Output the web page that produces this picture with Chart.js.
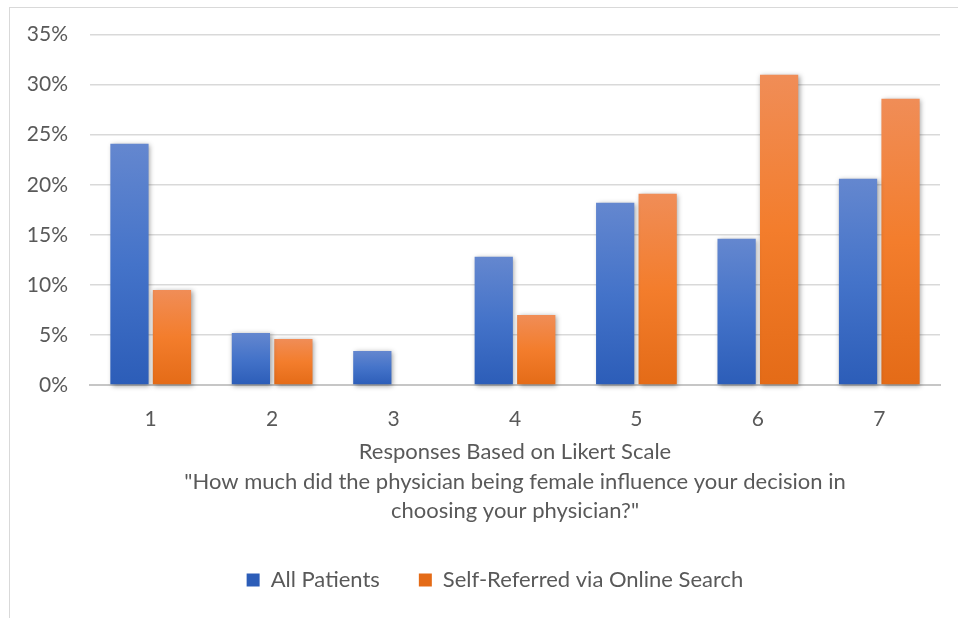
<!DOCTYPE html>
<html>
<head>
<meta charset="utf-8">
<script src="https://cdn.jsdelivr.net/npm/chart.js@4.4.1/dist/chart.umd.min.js"></script>
<style>
  html, body { margin: 0; padding: 0; background: #fff; }
  #wrap { position: relative; width: 958px; height: 618px; overflow: hidden; }
  #frame { position: absolute; left: 9px; top: 7px; right: -4px; bottom: -4px;
           border-top: 1.5px solid #d9d9d9; border-left: 1.5px solid #d9d9d9; }
  canvas { position: absolute; left: 0; top: 0; }
</style>
</head>
<body>
<div id="wrap">
  <div id="frame"></div>
  <canvas id="c" width="958" height="618"></canvas>
</div>
<script>
// Likert responses 1..7, share of respondents (%)
const categories = ['1', '2', '3', '4', '5', '6', '7'];
const allPatients = [24.1, 5.2, 3.4, 12.8, 18.2, 14.6, 20.6];
const selfReferred = [9.5, 4.6, 0, 7.0, 19.1, 31.0, 28.6];
const seriesNames = ['All Patients', 'Self-Referred via Online Search'];
const axisTitle = [
  'Responses Based on Likert Scale',
  '"How much did the physician being female influence your decision in',
  'choosing your physician?"'
];

const FONT = 'Lato, "Open Sans", sans-serif';
const TEXT = '#595959';

// Vertical gradient for each bar: lighter at the top, deeper at the base
function barFill(stops, solid) {
  return (ctx) => {
    if (ctx.type !== 'data') return solid;
    const chart = ctx.chart;
    const y = chart.scales && chart.scales.y;
    if (!chart.chartArea || !y || !ctx.parsed) return solid;
    const top = y.getPixelForValue(ctx.parsed.y);
    const base = y.getPixelForValue(0);
    if (!isFinite(top) || Math.abs(base - top) < 1) return solid;
    const g = chart.ctx.createLinearGradient(0, top, 0, base);
    g.addColorStop(0, stops[0]);
    g.addColorStop(0.5, stops[1]);
    g.addColorStop(1, stops[2]);
    return g;
  };
}

// Soft drop shadow behind the bars
const barShadow = {
  id: 'barShadow',
  beforeDatasetsDraw(chart) {
    const c = chart.ctx;
    c.save();
    c.shadowColor = 'rgba(0,0,0,0.38)';
    c.shadowBlur = 5;
    c.shadowOffsetX = 1.5;
    c.shadowOffsetY = 1.5;
  },
  afterDatasetsDraw(chart) {
    chart.ctx.restore();
  }
};

// Centre the legend row a little to the right of the canvas centre
const legendShift = {
  id: 'legendShift',
  afterLayout(chart) {
    if (chart.legend) chart.legend.left = 50;
  }
};

new Chart(document.getElementById('c'), {
  type: 'bar',
  data: {
    labels: categories,
    datasets: [
      {
        label: seriesNames[0],
        data: allPatients,
        backgroundColor: barFill(['#6487cf', '#4473c9', '#2c5db8'], '#4472c4'),
        borderWidth: 0,
        clip: false
      },
      {
        label: seriesNames[1],
        data: selfReferred,
        backgroundColor: barFill(['#f08d57', '#f37d2c', '#e46b17'], '#ed7d31'),
        borderWidth: 0,
        clip: false
      }
    ]
  },
  options: {
    responsive: false,
    animation: false,
    devicePixelRatio: 1,
    layout: { padding: { top: 31.5, right: 18, bottom: 17, left: 0 } },
    datasets: { bar: { categoryPercentage: 0.7, barPercentage: 0.9 } },
    plugins: {
      tooltip: { enabled: false },
      legend: {
        position: 'bottom',
        labels: {
          color: TEXT,
          font: { family: FONT, size: 22 },
          boxWidth: 13,
          boxHeight: 13,
          padding: 39
        }
      }
    },
    scales: {
      x: {
        grid: { display: false },
        border: { display: true, color: '#c6c6c6', width: 2 },
        ticks: { color: TEXT, font: { family: FONT, size: 21 }, padding: 14 },
        title: {
          display: true,
          text: axisTitle,
          color: TEXT,
          font: { family: FONT, size: 22, lineHeight: 1.32 },
          padding: { top: 0, bottom: 5 }
        },
        afterFit(scale) { scale.height = 145; }
      },
      y: {
        min: 0,
        max: 35,
        grid: { color: '#d9d9d9', lineWidth: 1.5, drawTicks: false },
        border: { display: false },
        ticks: {
          stepSize: 5,
          color: TEXT,
          font: { family: FONT, size: 21 },
          padding: 22,
          callback: (v) => v + '%'
        },
        afterFit(scale) { scale.width = 90; }
      }
    }
  },
  plugins: [barShadow, legendShift]
});
</script>
</body>
</html>
